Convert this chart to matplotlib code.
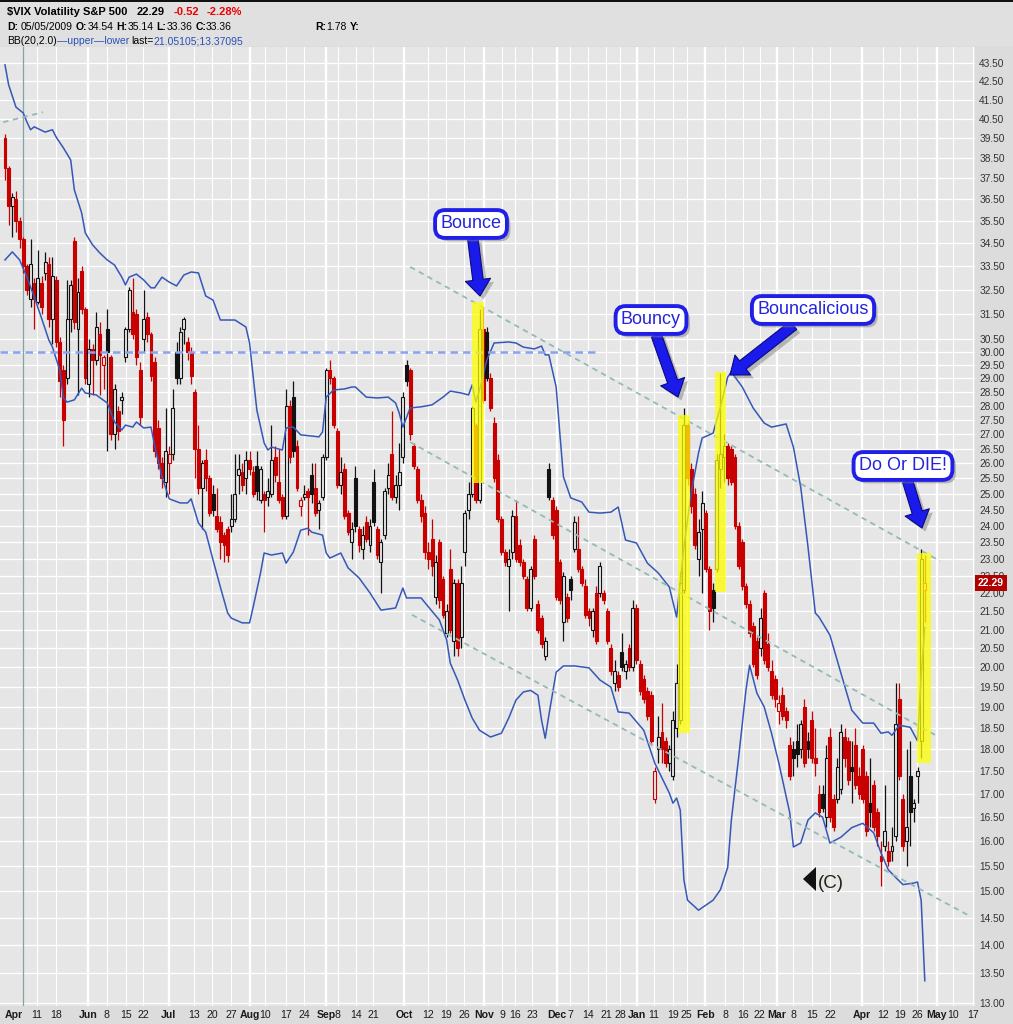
import numpy as np
import matplotlib
matplotlib.use("Agg")
import matplotlib.pyplot as plt
import matplotlib.patheffects as pe
from matplotlib.patches import Rectangle, Polygon
from matplotlib.ticker import NullLocator, NullFormatter

plt.rcParams["font.family"] = ["Liberation Sans", "DejaVu Sans"]

# daily candles, one entry per trading day (day 0 = first candle)
opens = [
    39.5, 38.0, 36.2, 36.5, 35.5, 34.7, 33.5, 32.1, 32.8, 32.0,
    32.8, 33.2, 33.6, 31.3, 32.9, 30.4, 29.3, 29.0, 31.3, 34.6,
    30.9, 33.3, 31.7, 28.8, 30.1, 29.7, 30.7, 29.5, 30.9, 29.8,
    27.0, 27.8, 28.2, 29.8, 30.9, 31.6, 31.5, 29.3, 30.5, 31.4,
    30.7, 29.6, 27.2, 26.0, 25.4, 26.0, 26.3, 30.0, 29.0, 30.9,
    30.4, 30.0, 28.5, 26.5, 25.2, 26.1, 25.5, 25.0, 24.3, 24.1,
    23.7, 23.9, 24.0, 24.2, 25.6, 25.7, 25.5, 26.1, 25.7, 25.9,
    24.8, 25.0, 24.9, 25.0, 26.2, 25.4, 24.9, 24.3, 28.0, 28.3,
    26.6, 24.6, 24.9, 25.1, 25.6, 25.2, 24.5, 24.9, 26.2, 29.3,
    29.0, 27.1, 25.3, 25.8, 24.4, 23.5, 25.5, 23.9, 23.3, 24.1,
    23.4, 25.4, 23.9, 22.9, 23.7, 25.2, 26.3, 24.9, 25.3, 26.2,
    29.5, 29.3, 26.6, 25.8, 24.8, 24.4, 23.2, 23.6, 21.9, 23.5,
    22.4, 20.9, 22.7, 20.7, 22.3, 20.8, 23.2, 24.5, 25.0, 27.3,
    24.8, 30.9, 30.8, 29.0, 27.4, 26.1, 24.2, 23.2, 22.8, 23.2,
    24.3, 23.4, 22.9, 22.4, 21.6, 23.6, 21.7, 21.3, 20.3, 25.8,
    24.8, 24.5, 22.9, 21.2, 21.9, 22.4, 23.3, 23.3, 22.7, 22.2,
    21.5, 21.0, 22.0, 22.0, 22.0, 21.5, 20.5, 19.6, 19.8, 20.4,
    19.9, 20.5, 20.0, 21.6, 20.1, 19.7, 19.4, 19.3, 16.9, 18.0,
    18.4, 18.2, 17.7, 17.4, 18.5, 18.7, 22.1, 27.3, 25.8, 25.0,
    23.0, 23.9, 24.4, 22.7, 22.1, 22.7, 25.8, 26.2, 26.6, 26.5,
    26.2, 24.0, 23.5, 22.2, 21.7, 21.1, 20.7, 20.5, 22.0, 20.6,
    19.9, 19.7, 18.9, 19.3, 18.9, 18.1, 18.0, 18.2, 18.0, 19.0,
    18.2, 18.7, 17.8, 17.0, 17.0, 16.5, 18.3, 16.9, 16.9, 17.1,
    18.3, 18.2, 17.6, 18.1, 17.4, 18.0, 17.4, 16.8, 17.2, 16.6,
    15.7, 15.9, 15.8, 15.8, 16.1, 19.2, 16.9, 16.0, 17.4, 16.7,
    17.4, 18.2, 22.1,
]
highs = [
    39.7, 38.1, 36.8, 36.9, 35.7, 34.8, 33.6, 34.7, 33.0, 34.2,
    33.1, 34.1, 33.9, 33.9, 33.1, 30.6, 29.5, 32.9, 32.9, 34.8,
    33.0, 33.5, 31.8, 30.5, 30.3, 31.6, 31.2, 29.9, 31.7, 29.9,
    28.8, 28.0, 28.5, 31.0, 32.6, 33.0, 31.7, 29.6, 32.5, 31.6,
    30.8, 29.8, 27.5, 26.2, 27.9, 26.6, 28.6, 30.4, 31.0, 31.4,
    30.6, 30.2, 28.6, 27.3, 26.1, 26.5, 25.6, 25.3, 25.2, 24.3,
    23.8, 24.0, 25.0, 26.3, 26.3, 26.0, 26.4, 26.4, 25.9, 26.4,
    25.9, 25.1, 25.5, 27.3, 26.6, 26.5, 25.0, 28.6, 28.2, 28.9,
    26.8, 24.9, 25.3, 25.2, 26.0, 26.0, 24.8, 26.3, 29.4, 29.7,
    29.1, 27.2, 26.2, 26.0, 24.5, 24.1, 25.9, 24.0, 24.0, 24.3,
    24.2, 25.8, 24.0, 23.6, 25.2, 26.0, 27.8, 25.6, 26.7, 28.5,
    29.7, 29.4, 26.7, 25.9, 25.0, 24.6, 23.5, 24.2, 23.1, 23.6,
    22.5, 21.7, 23.3, 22.4, 22.4, 22.8, 24.5, 25.4, 28.0, 27.4,
    31.7, 31.8, 31.0, 29.2, 27.6, 26.3, 24.3, 23.3, 23.3, 24.5,
    24.8, 23.6, 23.0, 22.5, 22.8, 23.7, 21.8, 21.4, 20.8, 26.0,
    24.9, 24.6, 23.0, 22.6, 22.0, 22.5, 24.3, 24.3, 22.8, 22.4,
    21.6, 21.6, 22.2, 22.9, 22.1, 21.6, 20.6, 20.2, 19.9, 20.9,
    20.2, 20.6, 21.8, 21.7, 20.2, 19.8, 19.5, 19.4, 17.6, 18.8,
    19.1, 18.3, 18.1, 18.9, 20.1, 22.6, 27.9, 27.4, 26.0, 25.2,
    24.2, 25.1, 24.5, 22.8, 22.3, 26.3, 29.2, 27.0, 26.7, 26.6,
    26.3, 24.1, 23.6, 22.3, 21.8, 21.2, 20.8, 21.6, 22.1, 20.9,
    20.2, 19.8, 19.3, 19.5, 19.0, 18.3, 18.2, 18.6, 18.7, 19.2,
    18.4, 18.9, 18.5, 17.2, 17.2, 18.1, 18.5, 17.0, 17.8, 18.6,
    18.5, 18.3, 18.2, 18.5, 17.6, 18.1, 17.5, 17.8, 17.3, 16.7,
    16.0, 17.2, 16.0, 16.3, 19.6, 19.6, 17.0, 18.0, 18.2, 16.9,
    17.6, 23.3, 23.1,
]
lows = [
    37.4, 35.3, 34.8, 35.0, 34.3, 33.2, 32.3, 31.8, 30.9, 31.9,
    31.5, 32.9, 31.0, 30.3, 30.2, 28.3, 26.6, 28.8, 30.8, 30.9,
    28.4, 31.5, 28.8, 28.3, 28.4, 29.5, 28.4, 28.6, 26.4, 26.8,
    26.5, 26.8, 27.7, 29.6, 30.8, 30.5, 29.5, 27.3, 30.0, 30.4,
    28.9, 26.2, 25.8, 25.2, 24.9, 25.0, 26.1, 28.8, 28.8, 30.3,
    29.7, 28.8, 25.5, 25.0, 23.9, 25.1, 24.3, 24.3, 23.8, 23.0,
    22.9, 22.9, 23.8, 24.1, 25.0, 25.1, 25.0, 25.6, 24.9, 24.8,
    24.7, 23.8, 24.6, 24.9, 25.4, 24.7, 24.2, 24.2, 26.0, 26.2,
    25.1, 24.3, 24.8, 23.7, 24.7, 24.3, 23.9, 24.8, 26.1, 28.8,
    27.2, 25.2, 25.0, 24.2, 23.7, 23.0, 23.8, 23.2, 23.0, 23.5,
    23.2, 24.0, 23.0, 22.0, 23.6, 25.0, 24.8, 24.7, 24.5, 26.0,
    28.7, 26.8, 25.8, 24.7, 24.1, 23.0, 22.7, 22.5, 21.7, 21.6,
    21.3, 20.8, 20.9, 20.3, 20.3, 20.5, 22.8, 24.2, 24.9, 24.7,
    24.7, 28.1, 28.9, 27.8, 25.4, 24.1, 23.1, 22.8, 21.5, 23.0,
    22.9, 22.8, 22.4, 21.5, 21.5, 22.4, 20.9, 20.5, 20.2, 24.8,
    23.6, 21.8, 21.7, 20.7, 21.2, 21.8, 23.2, 22.6, 22.2, 21.3,
    21.1, 20.8, 20.6, 21.9, 21.7, 20.6, 19.8, 19.4, 19.4, 19.9,
    19.7, 19.9, 19.9, 20.1, 19.3, 19.1, 18.7, 18.1, 16.8, 17.7,
    17.7, 17.6, 17.5, 17.3, 18.3, 18.6, 22.0, 25.3, 24.4, 23.3,
    22.5, 22.0, 22.6, 21.0, 21.2, 22.6, 25.2, 25.4, 25.3, 25.3,
    23.9, 22.7, 22.1, 21.6, 20.8, 20.0, 19.7, 20.3, 20.1, 19.9,
    19.2, 19.0, 18.6, 18.7, 18.5, 17.3, 17.4, 17.6, 17.8, 17.6,
    17.8, 17.7, 17.4, 16.5, 16.6, 16.3, 16.4, 16.2, 16.8, 17.0,
    17.6, 17.2, 16.8, 17.1, 16.9, 16.8, 16.1, 16.3, 16.2, 15.9,
    15.1, 15.8, 15.5, 15.6, 16.0, 17.3, 15.8, 15.5, 15.9, 16.4,
    16.8, 17.8, 21.2,
]
closes = [
    38.0, 36.2, 36.6, 35.5, 34.7, 33.5, 32.5, 33.6, 32.1, 33.0,
    31.8, 33.7, 31.3, 33.1, 30.4, 28.9, 27.5, 31.3, 32.7, 31.2,
    32.4, 31.7, 29.0, 30.1, 29.7, 31.0, 29.9, 29.8, 30.0, 27.0,
    28.6, 27.1, 28.3, 30.9, 32.5, 30.7, 29.8, 27.6, 31.3, 30.7,
    29.1, 26.4, 26.0, 25.5, 26.4, 26.3, 27.9, 29.0, 30.8, 31.3,
    30.0, 29.1, 26.5, 25.2, 26.0, 25.5, 24.4, 24.5, 23.9, 23.5,
    23.4, 23.1, 24.2, 25.0, 25.8, 25.3, 26.1, 25.8, 25.0, 25.1,
    25.8, 24.8, 25.1, 26.1, 25.6, 24.8, 24.3, 28.0, 26.2, 26.4,
    25.2, 24.8, 25.0, 24.9, 25.0, 24.4, 24.7, 26.2, 29.3, 29.0,
    27.3, 25.3, 25.7, 24.3, 23.8, 23.9, 24.0, 23.4, 23.7, 23.6,
    24.0, 24.1, 23.1, 23.5, 25.1, 25.6, 24.9, 25.3, 25.7, 28.3,
    28.9, 27.0, 25.9, 24.8, 24.3, 23.2, 23.0, 22.8, 22.9, 21.8,
    21.4, 21.5, 21.0, 22.3, 20.5, 22.3, 24.4, 25.0, 27.9, 24.8,
    30.9, 28.2, 29.0, 27.9, 25.5, 24.2, 23.2, 22.9, 23.0, 24.3,
    23.0, 22.9, 22.5, 21.6, 22.7, 22.5, 21.0, 20.6, 20.7, 24.9,
    23.7, 21.9, 21.8, 22.5, 21.3, 22.1, 24.1, 22.7, 22.3, 21.4,
    21.3, 21.5, 20.7, 22.8, 21.8, 20.7, 19.9, 19.9, 19.5, 20.0,
    20.1, 20.0, 21.6, 20.2, 19.4, 19.2, 18.8, 18.2, 17.5, 18.3,
    18.0, 17.7, 18.0, 18.7, 19.6, 22.3, 27.3, 25.5, 24.6, 23.4,
    23.8, 24.7, 22.7, 21.5, 21.6, 26.1, 26.3, 26.6, 25.5, 25.4,
    24.0, 22.8, 22.2, 21.7, 20.9, 20.1, 19.8, 21.3, 20.2, 20.0,
    19.3, 19.2, 19.1, 18.8, 18.7, 17.4, 17.8, 17.9, 18.6, 17.7,
    18.0, 17.8, 17.7, 16.6, 16.7, 17.8, 16.5, 16.3, 17.6, 18.4,
    17.8, 17.3, 17.5, 17.2, 17.0, 16.9, 16.2, 16.6, 16.3, 16.1,
    15.6, 16.2, 15.6, 15.9, 18.6, 17.4, 15.9, 16.3, 16.6, 16.8,
    17.5, 23.0, 22.29,
]

# Bollinger bands BB(20,2): (day, value)
bb_upper = [
    (0, 43.39), (1, 42.29), (3, 41.10), (5, 40.79), (6, 40.32), (7, 39.92),
    (8, 40.07), (11, 39.80), (13, 39.92), (14, 39.55), (16, 39.00), (18, 38.40),
    (19, 36.95), (21, 35.87), (22, 34.96), (24, 34.43), (26, 34.07), (28, 33.77),
    (30, 33.55), (32, 33.03), (33, 32.70), (34, 33.03), (36, 33.16), (38, 32.91),
    (40, 32.58), (41, 32.58), (43, 33.03), (45, 32.82), (47, 32.66), (49, 33.12),
    (51, 33.25), (53, 33.21), (55, 32.24), (57, 32.07), (59, 31.26), (60, 31.26),
    (63, 31.26), (66, 30.98), (67, 30.35), (68, 29.06), (69, 27.84), (71, 26.69),
    (72, 26.45), (73, 26.55), (76, 26.45), (77, 27.21), (79, 27.24), (81, 26.97),
    (84, 26.93), (86, 26.90), (87, 27.07), (88, 28.31), (90, 28.57), (93, 28.61),
    (95, 28.68), (96, 28.68), (99, 28.31), (102, 28.28), (105, 28.31), (107, 28.10),
    (108, 27.74), (109, 27.24), (111, 27.92), (114, 27.96), (117, 28.03), (120, 28.31),
    (122, 28.53), (125, 28.46), (127, 28.39), (128, 28.76), (129, 28.13), (130, 28.57),
    (132, 29.69), (134, 30.35), (138, 30.39), (140, 30.35), (142, 30.19), (145, 30.12),
    (147, 30.23), (148, 29.89), (149, 29.89), (151, 28.68), (152, 27.03), (153, 25.55),
    (155, 24.87), (158, 24.74), (160, 24.42), (163, 24.39), (166, 24.42), (168, 24.58),
    (170, 23.56), (173, 23.47), (176, 22.87), (179, 22.58), (182, 22.18), (184, 21.34),
    (186, 23.35), (188, 25.03), (190, 26.35), (191, 26.86), (194, 27.03), (196, 27.96),
    (198, 29.05), (199, 29.24), (202, 28.68), (205, 27.91), (208, 27.38), (210, 27.24),
    (214, 27.35), (216, 26.55), (218, 25.22), (220, 23.35), (222, 21.45), (223, 21.34),
    (226, 20.85), (229, 19.86), (232, 18.93), (235, 18.62), (238, 18.62), (240, 18.38),
    (242, 18.41), (243, 18.33), (245, 18.57), (248, 18.52), (250, 18.20), (251, 19.77),
    (252, 21.05),
]
bb_lower = [
    (0, 33.77), (2, 34.12), (4, 33.77), (6, 33.04), (8, 32.20), (10, 31.34),
    (12, 30.47), (13, 30.19), (15, 29.31), (16, 28.28), (17, 28.13), (19, 28.21),
    (21, 28.64), (22, 28.46), (25, 28.39), (28, 28.10), (30, 27.42), (32, 27.14),
    (33, 27.31), (35, 27.24), (36, 27.42), (38, 27.21), (40, 27.24), (41, 26.60),
    (43, 25.55), (45, 24.84), (48, 24.71), (50, 24.71), (51, 24.84), (53, 24.08),
    (55, 23.80), (57, 22.96), (59, 22.18), (61, 21.45), (62, 21.31), (65, 21.18),
    (67, 21.18), (68, 21.62), (70, 22.58), (71, 23.17), (73, 23.11), (76, 23.17),
    (77, 22.87), (79, 23.20), (81, 23.86), (83, 23.92), (84, 23.80), (87, 23.71),
    (88, 23.17), (89, 23.02), (92, 23.17), (94, 22.73), (97, 22.44), (100, 22.01),
    (103, 21.53), (107, 21.59), (109, 22.15), (110, 21.87), (114, 21.87), (116, 21.62),
    (119, 21.26), (121, 20.72), (122, 20.11), (124, 19.68), (126, 19.18), (128, 18.74),
    (130, 18.45), (133, 18.29), (136, 18.38), (138, 18.74), (140, 19.18), (142, 19.38),
    (144, 19.42), (146, 19.30), (147, 18.69), (148, 18.26), (149, 18.81), (151, 19.88),
    (153, 20.04), (156, 20.04), (160, 19.99), (163, 19.68), (166, 19.50), (168, 18.89),
    (171, 18.86), (175, 18.45), (178, 17.69), (182, 17.02), (183, 16.80), (184, 16.91),
    (185, 16.65), (186, 15.22), (187, 14.83), (190, 14.64), (194, 14.83), (196, 15.03),
    (198, 15.47), (199, 16.44), (201, 17.82), (203, 19.43), (204, 20.06), (206, 19.35),
    (208, 19.01), (210, 18.38), (212, 17.69), (215, 16.59), (216, 15.88), (218, 15.96),
    (220, 16.44), (222, 16.59), (224, 16.50), (226, 15.96), (229, 16.08), (232, 16.28),
    (235, 16.37), (238, 16.17), (240, 15.76), (242, 15.42), (244, 15.27), (246, 15.13),
    (249, 15.16), (250, 15.18), (251, 14.83), (252, 13.37),
]

# hand drawn trend lines: ((day, value), (day, value))
channel_lines = [
    ((111.0, 33.47), (256.2, 22.93)),
    ((111.0, 26.72), (254.8, 18.34)),
    ((111.5, 21.40), (263.8, 14.55)),
    ((-0.5, 40.31), (10.4, 40.83)),
]
resistance_level = 30.0
resistance_end_day = 161.6
marker_day = 4.9

# yellow highlights: day from, day to, low, high
highlights = [
    (127.9, 131.2, 25.35, 32.0),
    (184.4, 187.7, 18.38, 27.67),
    (194.5, 197.5, 22.04, 29.24),
    (249.9, 253.7, 17.70, 23.17),
]

x_tick_days = [2.5, 8.8, 14.0, 22.7, 27.9, 33.2, 37.8, 44.9, 51.8, 56.7, 61.9,
               67.1, 71.2, 77.0, 81.9, 87.9, 91.2, 96.2, 100.8, 109.3, 115.9,
               120.8, 125.8, 131.2, 136.2, 139.7, 144.4, 151.2, 154.8, 159.7,
               164.7, 168.5, 173.2, 177.8, 183.0, 186.8, 191.8, 197.3, 202.2,
               206.8, 211.5, 215.9, 221.1, 226.0, 234.8, 240.5, 245.2, 249.9,
               255.3, 259.7, 265.2]
x_tick_labels = ["Apr", "11", "18", "Jun", "8", "15", "22", "Jul", "13", "20", "27",
                 "Aug", "10", "17", "24", "Sep", "8", "14", "21", "Oct", "12",
                 "19", "26", "Nov", "9", "16", "23", "Dec", "7", "14",
                 "21", "28", "Jan", "11", "19", "25", "Feb", "8", "16",
                 "22", "Mar", "8", "15", "22", "Apr", "12", "19", "26",
                 "May", "10", "17"]
months = {"Apr", "May", "Jun", "Jul", "Aug", "Sep", "Oct", "Nov", "Dec", "Jan", "Feb", "Mar"}
y_ticks = [13.0 + 0.5 * k for k in range(35)] + [30.5 + k for k in range(14)]

BG = "#e6e6e6"
RED = "#c80000"
BLK = "#121212"
W, H = 1013, 1024

fig = plt.figure(figsize=(W / 100, H / 100), dpi=100, facecolor="#dcdcdc")
fig.add_artist(Rectangle((0, 1 - 46 / H), 1, 46 / H, transform=fig.transFigure,
                         fc="#e0e0e0", ec="none"))
fig.add_artist(Rectangle((0, 1 - 2 / H), 1, 2 / H, transform=fig.transFigure,
                         fc="#111111", ec="none"))

ax = fig.add_axes([0, 1 - 1006 / H, 975 / W, (1006 - 47) / H])
ax.set_facecolor(BG)
ax.set_yscale("log")
ax.set_ylim(12.944, 44.40)
ax.set_xlim(-1.37, 265.75)
for s in ax.spines.values():
    s.set_visible(False)

# grid
for v in y_ticks:
    ax.axhline(v, color="white", lw=0.9, zorder=1)
for d, lab in zip(x_tick_days[1:], x_tick_labels[1:]):
    ax.axvline(d, color="white", lw=1.7 if lab in months else 0.8, zorder=1)
ax.axvline(marker_day, color="#7fa5a5", lw=0.9, zorder=2)

ax.yaxis.tick_right()
ax.set_yticks(y_ticks)
ax.set_yticklabels(["%.2f" % v for v in y_ticks])
ax.yaxis.set_minor_locator(NullLocator())
ax.yaxis.set_minor_formatter(NullFormatter())
ax.tick_params(axis="y", length=0, pad=3, labelsize=7.3, labelcolor="#333333")
ax.set_xticks(x_tick_days)
ax.set_xticklabels(x_tick_labels)
ax.tick_params(axis="x", length=0, pad=3, labelsize=7.6, labelcolor="#1a1a1a")
for t in ax.get_xticklabels():
    if t.get_text() in months:
        t.set_fontweight("bold")

# candles
o = np.array(opens)
hi = np.array(highs)
lo = np.array(lows)
c = np.array(closes)
days = np.arange(len(c))
prev = np.concatenate([[o[0]], c[:-1]])
cols = np.where(c < prev, RED, BLK)
filled = c < o
ax.vlines(days, lo, hi, colors=cols, lw=0.9, zorder=3)
body_lo = np.minimum(o, c)
body_h = np.maximum(np.abs(c - o), 0.05)
faces = [cols[i] if filled[i] else BG for i in range(len(c))]
ax.bar(days, body_h, bottom=body_lo, width=0.8, color=faces, edgecolor=cols,
       linewidth=0.8, zorder=4)

# bands
ud, uv = zip(*bb_upper)
ld, lv = zip(*bb_lower)
ax.plot(ud, uv, color="#3558b8", lw=1.1, zorder=5)
ax.plot(ld, lv, color="#3558b8", lw=1.1, zorder=5)

# trend lines
for (d0, v0), (d1, v1) in channel_lines:
    ax.plot([d0, d1], [v0, v1], color="#93bab6", lw=1.3, dashes=(3, 2.5), zorder=5)
ax.hlines(resistance_level, -1.4, resistance_end_day, colors="#8aa2f0", lw=1.8,
          linestyles=(0, (3, 2)), zorder=5)

for d0, d1, v0, v1 in highlights:
    ax.add_patch(Rectangle((d0, v0), d1 - d0, v1 - v0, fc="#ffff00", alpha=0.75,
                           lw=0, zorder=6))

# last price tag (covers the 22.50 label, as on the original)
ax.text(1.003, closes[-1], "%.2f" % closes[-1], transform=ax.get_yaxis_transform(),
        ha="left", va="center", color="white", fontsize=7.5, fontweight="bold",
        bbox=dict(boxstyle="square,pad=0.3", fc="#b00000", ec="none"),
        zorder=10, clip_on=False)

# callouts (figure pixels)
ARROW = "simple,head_length=0.9,head_width=1.4,tail_width=0.58"
shadow = [pe.SimplePatchShadow(offset=(2.5, -2.5), shadow_rgbFace="#808080", alpha=0.5),
          pe.Normal()]


def callout(text, box_xy, tip_xy):
    ann = ax.annotate(text, xy=(tip_xy[0], H - tip_xy[1]), xycoords="figure pixels",
                      xytext=(box_xy[0], H - box_xy[1]), textcoords="figure pixels",
                      ha="center", va="center", fontsize=13, color="#2424dc", zorder=12,
                      bbox=dict(boxstyle="round,pad=0.3,rounding_size=0.55", fc="white",
                                ec="#1f1fe8", lw=2.8),
                      arrowprops=dict(arrowstyle=ARROW, fc="#1a1aea", ec="#0a0a80", lw=0.8,
                                      shrinkA=0, shrinkB=0))
    ann.get_bbox_patch().set_path_effects(shadow)
    ann.arrow_patch.set_path_effects(shadow)


callout("Bounce", (471, 224), (480, 296))
callout("Bouncy", (651, 320), (678, 397))
callout("Bouncalicious", (813, 310), (730, 375))
callout("Do Or DIE!", (903, 466), (922, 528))

fig.add_artist(Polygon([(803, H - 879), (816, H - 867), (816, H - 891)], closed=True,
                       transform=None, fc="#111111", ec="none", zorder=12))
fig.text(818 / W, (H - 883) / H, "(C)", fontsize=13.5, color="#222211", va="center")

# header: pieces laid out one after another
renderer = fig.canvas.get_renderer()


def hline(x, y, pieces, size):
    for s, weight, color, gap in pieces:
        t = fig.text(x / W, (H - y) / H, s, va="center", fontsize=size,
                     fontweight=weight, color=color)
        x += t.get_window_extent(renderer).width + gap


BLUE = "#2a4fb8"
hline(7, 12, [("$VIX Volatility S&P 500", "bold", "black", 9),
              ("22.29", "bold", "black", 9),
              ("-0.52", "bold", "#ee0000", 8),
              ("-2.28%", "bold", "#ee0000", 0)], 8)
hline(7, 27, [("D:", "bold", "black", 3), ("05/05/2009", "normal", "black", 3),
              ("O:", "bold", "black", 0), ("34.54", "normal", "black", 3),
              ("H:", "bold", "black", 0), ("35.14", "normal", "black", 3),
              ("L:", "bold", "black", 0), ("33.36", "normal", "black", 3),
              ("C:", "bold", "black", 0), ("33.36", "normal", "black", 0)], 7.5)
hline(315, 27, [("R:", "bold", "black", 0), ("1.78", "normal", "black", 3),
                ("Y:", "bold", "black", 0)], 7.5)
hline(7, 41, [("BB(20,2.0)", "normal", "black", 0),
              ("\u2014upper", "normal", BLUE, 0),
              ("\u2014lower", "normal", BLUE, 2),
              ("last=", "normal", "black", 0),
              ("21.05105;13.37095", "normal", BLUE, 0)], 7.5)

fig.savefig("out.png", dpi=100, facecolor=fig.get_facecolor())
